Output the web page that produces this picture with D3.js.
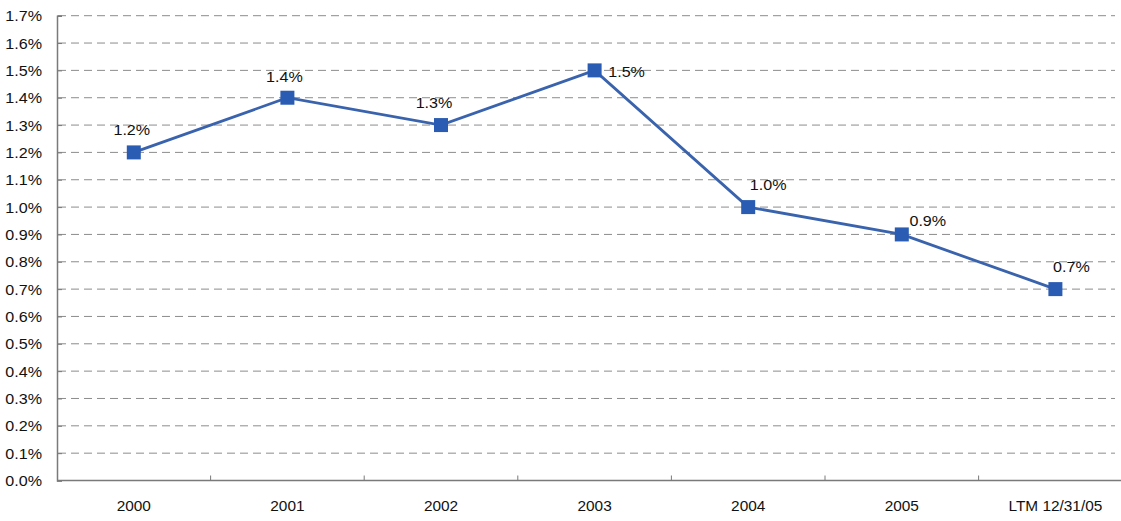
<!DOCTYPE html>
<html>
<head>
<meta charset="utf-8">
<script src="https://cdn.jsdelivr.net/npm/d3@7"></script>
<style>
  html, body { margin: 0; padding: 0; background: #fff; }
  svg { display: block; }
  text { font-family: "Liberation Sans", Arial, sans-serif; fill: #111; }
</style>
</head>
<body>
<svg id="chart" width="1121" height="521"></svg>
<script>
// Annual rate series
const categories = ["2000", "2001", "2002", "2003", "2004", "2005", "LTM 12/31/05"];
const values = [1.2, 1.4, 1.3, 1.5, 1.0, 0.9, 0.7];
const yTicks = [0.0, 0.1, 0.2, 0.3, 0.4, 0.5, 0.6, 0.7, 0.8, 0.9, 1.0, 1.1, 1.2, 1.3, 1.4, 1.5, 1.6, 1.7];

const svg = d3.select("#chart");
const plotLeft = 57, plotTop = 15.7, plotBottom = 480.5;
const bandW = 153.6;
const gridRight = 1115;

const x = d3.scaleBand().domain(categories).range([plotLeft, plotLeft + bandW * categories.length]).padding(0);
const y = d3.scaleLinear().domain([0, 1.7]).range([plotBottom, plotTop]);

const fmt = d => d3.format(".1f")(d) + "%";

// stretch text slightly wider, like the original rendering
function widen(sel, k) {
  sel.each(function () {
    const w = this.getComputedTextLength();
    d3.select(this).attr("textLength", w * k).attr("lengthAdjust", "spacingAndGlyphs");
  });
}

// dashed horizontal gridlines
svg.append("g").selectAll("line")
  .data(yTicks.filter(d => d > 0))
  .join("line")
  .attr("x1", plotLeft + 1).attr("x2", gridRight)
  .attr("y1", d => y(d)).attr("y2", d => y(d))
  .attr("stroke", "#8c8c8c").attr("stroke-width", 1)
  .attr("stroke-dasharray", "8,5");

// y axis
const yAxis = svg.append("g")
  .attr("transform", `translate(${plotLeft},0)`)
  .call(d3.axisLeft(y).tickValues(yTicks).tickFormat(fmt).tickSize(-5).tickPadding(15));
yAxis.select(".domain").attr("stroke", "#7a7a7a").attr("stroke-width", 1.5);
yAxis.selectAll(".tick line").attr("stroke", "#7a7a7a");
yAxis.selectAll(".tick text")
  .attr("font-size", 14).attr("font-family", "Liberation Sans, Arial, sans-serif")
  .attr("fill", "#111").attr("dy", "0.36em").call(widen, 1.15);

// x axis
const xAxis = svg.append("g")
  .attr("transform", `translate(0,${plotBottom})`)
  .call(d3.axisBottom(x).tickSize(0).tickPadding(21));
xAxis.select(".domain").remove();
svg.append("line")
  .attr("x1", plotLeft).attr("x2", 1121).attr("y1", plotBottom).attr("y2", plotBottom)
  .attr("stroke", "#7a7a7a").attr("stroke-width", 1.5);
// category separator ticks
svg.append("g").selectAll("line")
  .data(categories.slice(1))
  .join("line")
  .attr("x1", d => x(d)).attr("x2", d => x(d))
  .attr("y1", plotBottom).attr("y2", plotBottom - 5)
  .attr("stroke", "#7a7a7a");
xAxis.selectAll(".tick text")
  .attr("font-size", 14).attr("font-family", "Liberation Sans, Arial, sans-serif")
  .attr("fill", "#111").call(widen, 1.1);

const cx = d => x(d) + x.bandwidth() / 2;

// series line
const line = d3.line().x((d, i) => cx(categories[i])).y(d => y(d));
svg.append("path")
  .datum(values)
  .attr("d", line)
  .attr("fill", "none")
  .attr("stroke", "#3a63ae")
  .attr("stroke-width", 2.8);

// square markers
const ms = 14;
svg.append("g").selectAll("rect")
  .data(values)
  .join("rect")
  .attr("x", (d, i) => cx(categories[i]) - ms / 2)
  .attr("y", d => y(d) - ms / 2)
  .attr("width", ms).attr("height", ms)
  .attr("fill", "#2b5cb3");

// value labels, offset from each marker
const labelOffsets = [[-2, -17], [-3, -16], [-7, -17], [32, 7], [20, -17], [26, -8], [16, -17]];
svg.append("g").selectAll("text")
  .data(values)
  .join("text")
  .attr("x", (d, i) => cx(categories[i]) + labelOffsets[i][0])
  .attr("y", (d, i) => y(d) + labelOffsets[i][1])
  .attr("text-anchor", "middle")
  .attr("font-size", 14)
  .text(fmt)
  .call(widen, 1.15);
</script>
</body>
</html>
